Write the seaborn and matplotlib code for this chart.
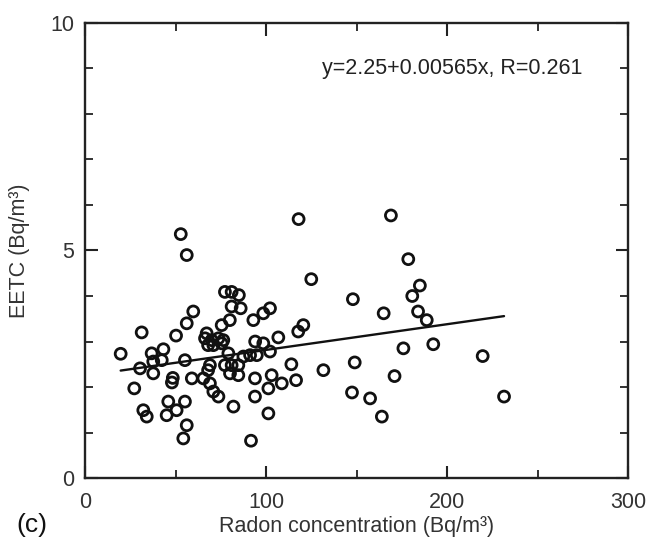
import numpy as np
import pandas as pd
import matplotlib
matplotlib.use("Agg")
import matplotlib.pyplot as plt
import seaborn as sns
from matplotlib.ticker import MultipleLocator

# ---- data ----
radon = [52.9, 56.2, 118, 169, 178.6, 125, 148, 185, 180.8, 184, 188.8, 165,
         175.9, 192.4, 219.7, 231.5, 149, 171, 147.5, 157.5, 164, 131.7, 116.6,
         114, 106.8, 117.8, 120.6, 108.7, 103.1, 101.3, 93.9, 93.9, 101.3, 91.7,
         82, 102.2, 98.5, 93, 102.2, 98.5, 94, 87.5, 91.2, 94.9, 85, 86,
         77.3, 81, 81, 80, 75.5, 59.8, 56.2, 67.2, 66.3, 70, 73.7, 76.4, 68,
         70.9, 75.5, 79.2, 55.2, 69, 68, 77.3, 81, 84.7, 80.1, 84.7, 59, 65.4,
         69, 70.9, 73.7, 55.2, 31.3, 50.3, 19.7, 43.3, 36.8, 37.7, 42.4, 30.4,
         37.7, 48.5, 48, 27.2, 32.2, 34.1, 46, 45.1, 50.6, 56.2, 54.3]
eetc = [5.36, 4.90, 5.69, 5.77, 4.81, 4.37, 3.93, 4.23, 4.00, 3.66, 3.47, 3.62,
        2.85, 2.94, 2.68, 1.79, 2.54, 2.24, 1.88, 1.75, 1.35, 2.37, 2.15,
        2.50, 3.09, 3.22, 3.36, 2.08, 2.26, 1.97, 2.19, 1.79, 1.42, 0.82,
        1.57, 3.73, 3.62, 3.47, 2.78, 2.96, 3.00, 2.67, 2.70, 2.70, 4.02, 3.73,
        4.09, 4.09, 3.77, 3.47, 3.36, 3.66, 3.40, 3.18, 3.07, 3.03, 3.07, 3.03, 2.92,
        2.92, 2.96, 2.74, 2.59, 2.48, 2.37, 2.48, 2.48, 2.48, 2.30, 2.26, 2.19, 2.19,
        2.08, 1.90, 1.79, 1.68, 3.20, 3.13, 2.73, 2.83, 2.74, 2.56, 2.59, 2.41,
        2.30, 2.20, 2.10, 1.97, 1.49, 1.35, 1.68, 1.38, 1.49, 1.16, 0.87]
fit_intercept = 2.25
fit_slope = 0.00565
fit_label = "y=2.25+0.00565x, R=0.261"
x_label = "Radon concentration (Bq/m\u00b3)"
y_label = "EETC (Bq/m\u00b3)"
panel_label = "(c)"

df = pd.DataFrame({"radon": radon, "eetc": eetc})

sns.set_theme(style="ticks")
plt.rcParams["font.family"] = ["Liberation Sans", "DejaVu Sans"]

fig = plt.figure(figsize=(6.51, 5.47), dpi=100)
ax = fig.add_axes([0.1306, 0.1261, 0.8341, 0.8319])

sns.scatterplot(data=df, x="radon", y="eetc", ax=ax, marker="o", s=62,
                facecolor="none", edgecolor="#111111", linewidth=2.0, legend=False)

xl = np.array([min(radon), max(radon)])
ax.plot(xl, fit_intercept + fit_slope * xl, color="#111111", lw=1.7)

ax.set_xlim(0, 300)
ax.set_ylim(0, 10)
ax.xaxis.set_major_locator(MultipleLocator(100))
ax.xaxis.set_minor_locator(MultipleLocator(50))
ax.yaxis.set_major_locator(MultipleLocator(5))
ax.yaxis.set_minor_locator(MultipleLocator(1))
ax.tick_params(which="both", direction="in", top=True, right=True,
               color="#222222", labelcolor="#333333", labelsize=15.5)
ax.tick_params(axis="x", which="major", pad=10)
ax.tick_params(axis="y", which="major", pad=8)
ax.tick_params(which="major", length=9, width=1.5)
ax.tick_params(which="minor", length=6, width=1.3)
for sp in ax.spines.values():
    sp.set_linewidth(1.7)
    sp.set_color("#222222")
    sp.set_visible(True)

ax.set_xlabel(x_label, fontsize=15.5, color="#333333", labelpad=2)
ax.set_ylabel(y_label, fontsize=15.5, color="#333333", labelpad=14)

ax.text(203, 9.0, fit_label, fontsize=15.5, color="#222222", ha="center", va="center")
fig.text(0.025, 0.04, panel_label, fontsize=19, color="#111111", ha="left", va="center")

fig.savefig("out.png", dpi=100)
